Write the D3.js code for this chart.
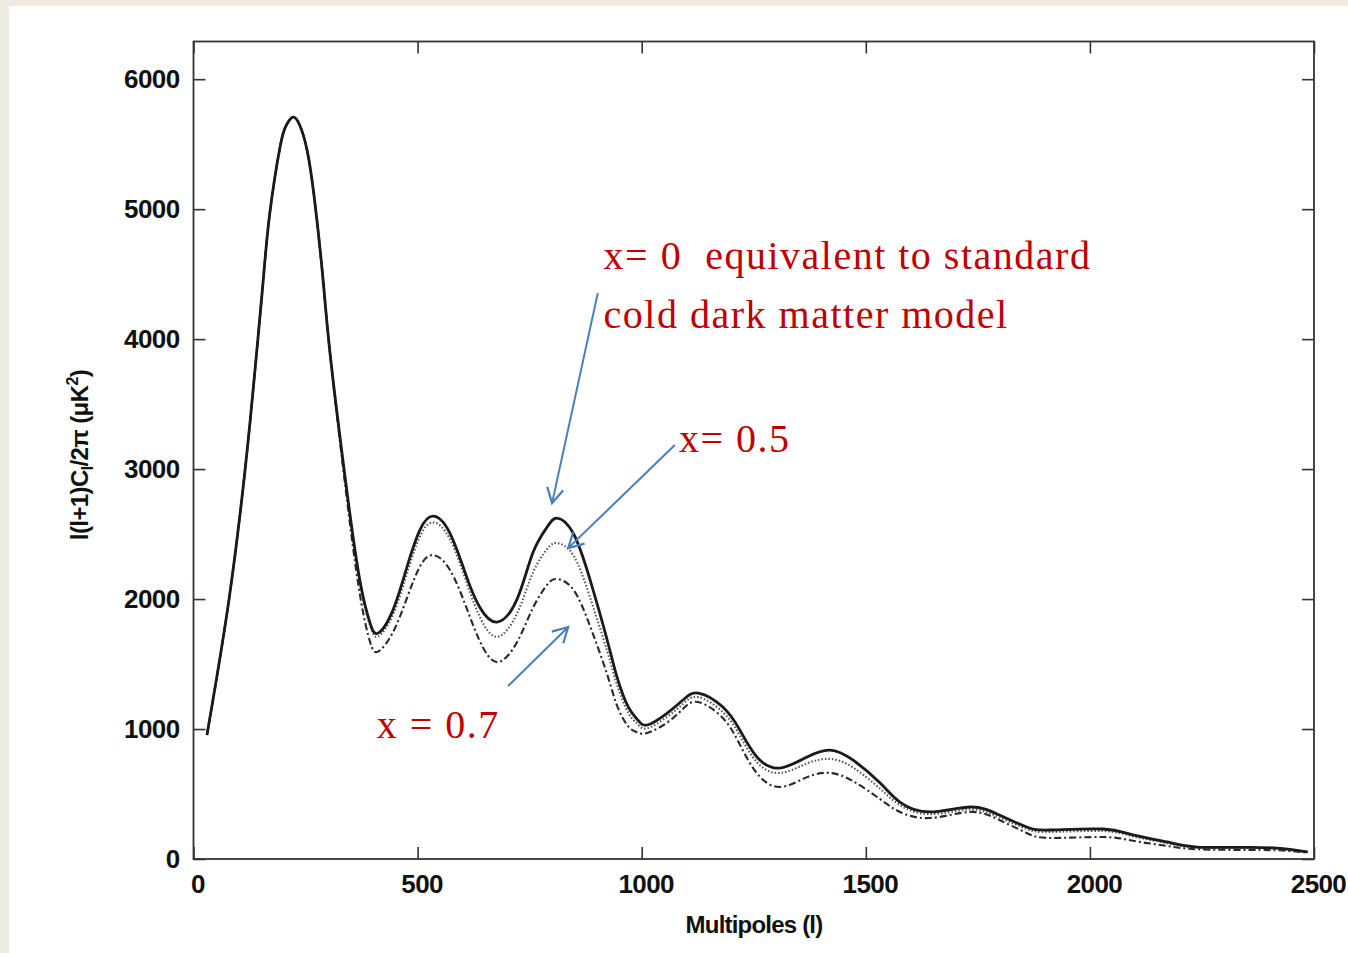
<!DOCTYPE html>
<html>
<head>
<meta charset="utf-8">
<script src="https://cdn.jsdelivr.net/npm/d3@7"></script>
<style>
  html, body { margin: 0; padding: 0; background: #ffffff; }
  svg { display: block; }
</style>
</head>
<body>
<svg id="chart" width="1348" height="953"></svg>
<script>
// ---- data ----
const multipoles = [30, 79, 115, 135, 155, 170, 193, 207, 222, 237, 253, 270, 289, 305, 339, 371, 394, 412, 445, 477,
  505, 534, 572, 610, 639, 677, 722, 757, 789, 811, 847, 885, 923, 945, 970, 990, 1012, 1057, 1092, 1126,
  1181, 1219, 1257, 1308, 1369, 1420, 1471, 1532, 1576, 1643, 1733, 1798, 1859, 1911, 2029, 2096, 2172, 2239, 2357, 2431, 2486];

const powerX0 = [954, 1992, 2992, 3680, 4430, 4964, 5477, 5646, 5708, 5646, 5460, 5074, 4460, 3880, 2915, 2146, 1815, 1738, 1915, 2255,
  2531, 2638, 2508, 2165, 1935, 1823, 2000, 2354, 2554, 2623, 2508, 2146, 1685, 1400, 1170, 1075, 1031, 1123, 1223, 1277,
  1169, 992, 785, 700, 785, 838, 762, 585, 438, 362, 400, 338, 246, 223, 231, 185, 131, 92, 90, 80, 54];

const powerX05 = [954, 1992, 2992, 3680, 4430, 4964, 5477, 5646, 5708, 5646, 5460, 5074, 4460, 3880, 2905, 2130, 1795, 1712, 1880, 2205,
  2480, 2590, 2462, 2120, 1862, 1710, 1890, 2200, 2385, 2431, 2340, 2010, 1600, 1340, 1125, 1040, 1005, 1095, 1192, 1246,
  1130, 950, 745, 662, 735, 770, 705, 540, 415, 345, 380, 320, 232, 208, 215, 175, 122, 88, 85, 76, 52];

const powerX07 = [954, 1992, 2992, 3680, 4430, 4964, 5477, 5646, 5708, 5646, 5460, 5074, 4460, 3880, 2860, 2040, 1670, 1595, 1745, 2015,
  2250, 2338, 2225, 1925, 1675, 1515, 1670, 1930, 2110, 2154, 2075, 1790, 1420, 1180, 1020, 975, 969, 1050, 1155, 1208,
  1085, 880, 660, 554, 630, 662, 600, 460, 362, 315, 362, 300, 200, 162, 169, 140, 100, 75, 70, 65, 48];

const xTicks = [0, 500, 1000, 1500, 2000, 2500];
const yTicks = [0, 1000, 2000, 3000, 4000, 5000, 6000];
const xTitle = "Multipoles (l)";

// annotations, in data coordinates [l, value]
const noteTexts = ["x= 0  equivalent to standard", "cold dark matter model", "x= 0.5", "x = 0.7"];
const noteAnchors = [[915, 4538], [915, 4085], [1083, 3131], [409, 931]];
const arrowFrom = [[902, 4354], [1074, 3185], [702, 1331]];
const arrowTo = [[800, 2738], [836, 2392], [836, 1785]];

// ---- drawing ----
const svg = d3.select("#chart");
const W = 1348, H = 953;

// slide background: beige strips on the left and top
svg.append("rect").attr("x", 0).attr("y", 0).attr("width", W).attr("height", H).attr("fill", "#eeebe1");
svg.append("rect").attr("x", 9).attr("y", 6).attr("width", W - 9).attr("height", H - 6).attr("fill", "#ffffff");

const x = d3.scaleLinear().domain([0, 2500]).range([193.5, 1314]);
const y = d3.scaleLinear().domain([0, 6290]).range([859, 41.5]);

const tickFont = "'Liberation Sans', Arial, sans-serif";

// axes with inward ticks on all four sides
const gL = svg.append("g").attr("transform", `translate(${x(0)},0)`)
  .call(d3.axisLeft(y).tickValues(yTicks).tickSizeInner(-12).tickSizeOuter(0).tickPadding(14).tickFormat(d3.format("d")));
const gR = svg.append("g").attr("transform", `translate(${x(2500)},0)`)
  .call(d3.axisRight(y).tickValues(yTicks).tickSizeInner(-12).tickSizeOuter(0).tickFormat(""));
const gB = svg.append("g").attr("transform", `translate(0,${y(0)})`)
  .call(d3.axisBottom(x).tickValues(xTicks).tickSizeInner(-12).tickSizeOuter(0).tickPadding(16).tickFormat(d3.format("d")));
const gT = svg.append("g").attr("transform", `translate(0,${y(6290)})`)
  .call(d3.axisTop(x).tickValues(xTicks).tickSizeInner(-12).tickSizeOuter(0).tickFormat(""));

[gL, gR, gB, gT].forEach(g => {
  g.select(".domain").remove();
  g.selectAll(".tick line").attr("stroke", "#333").attr("stroke-width", 1.6);
  g.selectAll("text").attr("fill", "#111").style("font-family", tickFont)
    .style("font-size", "26px").style("font-weight", "bold").style("letter-spacing", "-0.6px");
});
gB.selectAll("text").attr("dx", 4);

// frame
svg.append("rect")
  .attr("x", x(0)).attr("y", y(6290))
  .attr("width", x(2500) - x(0)).attr("height", y(0) - y(6290))
  .attr("fill", "none").attr("stroke", "#333").attr("stroke-width", 1.8);

// axis titles
svg.append("text")
  .attr("x", 754).attr("y", 933)
  .attr("text-anchor", "middle")
  .style("font-family", tickFont).style("font-size", "24px").style("font-weight", "bold")
  .style("letter-spacing", "-0.8px").attr("fill", "#111")
  .text(xTitle);

const yTitle = svg.append("text")
  .attr("transform", "translate(88,455) rotate(-90)")
  .attr("text-anchor", "middle")
  .style("font-family", tickFont).style("font-size", "24px").style("font-weight", "bold")
  .style("letter-spacing", "-0.6px").attr("fill", "#111");
yTitle.append("tspan").text("l(l+1)C");
yTitle.append("tspan").attr("dy", 5).style("font-size", "16px").text("l");
yTitle.append("tspan").attr("dy", -5).text("/2π (μK");
yTitle.append("tspan").attr("dy", -10).style("font-size", "16px").text("2");
yTitle.append("tspan").attr("dy", 10).text(")");

// curves
svg.append("clipPath").attr("id", "plotClip").append("rect")
  .attr("x", x(0)).attr("y", y(6290)).attr("width", x(2500) - x(0)).attr("height", y(0) - y(6290));

const line = d3.line().x(d => x(d[0])).y(d => y(d[1])).curve(d3.curveNatural);
const series = [
  { vals: powerX07, color: "#2a2a2a", width: 2.1, dash: "7,3,2,3" },
  { vals: powerX05, color: "#555", width: 2.1, dash: "1.5,2" },
  { vals: powerX0, color: "#1a1a1a", width: 2.8, dash: null }
];
const gLines = svg.append("g").attr("clip-path", "url(#plotClip)");
series.forEach(s => {
  gLines.append("path")
    .datum(multipoles.map((l, i) => [l, s.vals[i]]))
    .attr("d", line)
    .attr("fill", "none")
    .attr("stroke", s.color)
    .attr("stroke-width", s.width)
    .attr("stroke-linejoin", "round")
    .attr("stroke-dasharray", s.dash);
});

// annotation arrows (blue, open heads)
const blue = "#4a7ebb";
const gA = svg.append("g");
arrowFrom.forEach((f, i) => {
  const t = arrowTo[i];
  const x1 = x(f[0]), y1 = y(f[1]), x2 = x(t[0]), y2 = y(t[1]);
  gA.append("line").attr("x1", x1).attr("y1", y1).attr("x2", x2).attr("y2", y2)
    .attr("stroke", blue).attr("stroke-width", 2);
  const ang = Math.atan2(y2 - y1, x2 - x1);
  const len = 17, spread = 0.5;
  const p = d3.path();
  p.moveTo(x2 - len * Math.cos(ang - spread), y2 - len * Math.sin(ang - spread));
  p.lineTo(x2, y2);
  p.lineTo(x2 - len * Math.cos(ang + spread), y2 - len * Math.sin(ang + spread));
  gA.append("path").attr("d", p.toString()).attr("fill", "none")
    .attr("stroke", blue).attr("stroke-width", 2.2).attr("stroke-linejoin", "miter");
});

// annotation texts
noteTexts.forEach((t, i) => {
  svg.append("text")
    .attr("x", x(noteAnchors[i][0])).attr("y", y(noteAnchors[i][1]))
    .style("font-family", "'Liberation Serif', 'Times New Roman', serif")
    .style("font-size", "40px").style("letter-spacing", "1.5px")
    .style("white-space", "pre")
    .attr("xml:space", "preserve")
    .attr("fill", "#c00000")
    .text(t);
});
</script>
</body>
</html>
